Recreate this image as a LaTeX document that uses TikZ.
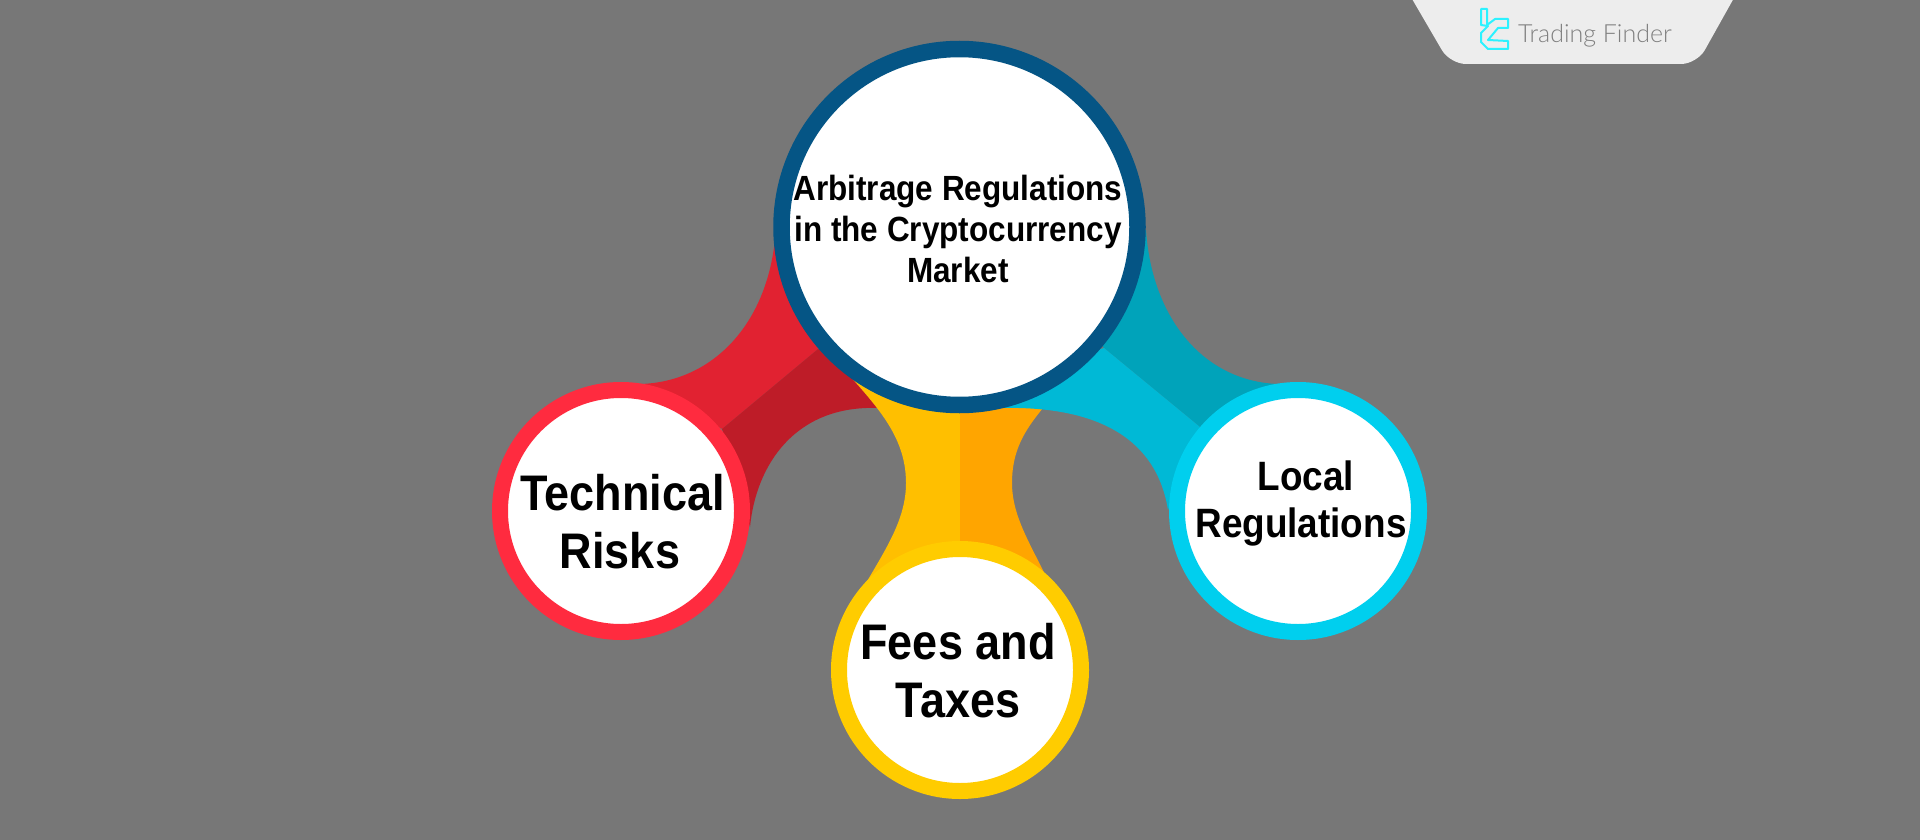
\documentclass[tikz,border=0pt]{standalone}
\usepackage{fontspec}
\setmainfont{Liberation Sans}[FakeStretch=0.9]
\newfontfamily\logofont{Lato Light}
\definecolor{bggray}{HTML}{777777}
\definecolor{tabgray}{HTML}{EDEDED}
\definecolor{logocyan}{HTML}{2CF2FF}
\definecolor{hubblue}{HTML}{055585}
\definecolor{ringred}{HTML}{FF2B3F}
\definecolor{redlight}{HTML}{E12231}
\definecolor{reddark}{HTML}{BE1C28}
\definecolor{ringyellow}{HTML}{FFCC00}
\definecolor{yellowlight}{HTML}{FFBF00}
\definecolor{yellowdark}{HTML}{FFA500}
\definecolor{ringcyan}{HTML}{00CFEE}
\definecolor{cyanlight}{HTML}{00B9D6}
\definecolor{cyandark}{HTML}{00A3BA}
\tikzset{
	hubring/.style={circle,draw=hubblue,line width=16.5pt,fill=white,minimum size=356pt,inner sep=0pt,outer sep=0pt},
	smallring/.style={circle,line width=16pt,fill=white,minimum size=242pt,inner sep=0pt,outer sep=0pt},
	biglabel/.style={align=center,font=\bfseries\fontsize{50}{58}\selectfont,inner sep=0pt},
}
\begin{document}
\begin{tikzpicture}[x=1pt,y=-1pt]
	\useasboundingbox (0,0) rectangle (1920,840);
	\fill[bggray] (0,0) rectangle (1920,840);
	% logo tab
	\fill[tabgray,rounded corners=16pt] (1401,-20)--(1450,64)--(1697,64)--(1744,-20)--cycle;
	\draw[logocyan,line width=2pt,line join=round] (1481,9)--(1487,9)--(1487,25)--(1495,19)--(1508,19)--(1508,28)--(1498,28)--(1488,40)--(1508,41)--(1508,49)--(1488,49)--(1481,42)--(1481,33)--(1488,26)--(1481,25)--cycle;
	\node[text=gray,inner sep=0pt,font=\logofont\fontsize{25}{25}\selectfont] (brand) at (1595,36) {Trading Finder};
	% nodes first, the ribbons go underneath
	\coordinate (hubc) at (959.5,227);
	\coordinate (redc) at (621,511);
	\coordinate (yelc) at (960,670);
	\coordinate (cyac) at (1298,511);
	% red ribbon
	\fill[redlight] (776,225) .. controls (772,320) and (715,382) .. (640,384)--(722,429)--(818,349)--(850,300)--cycle;
	\fill[reddark] (722,429)--(750,527) .. controls (756,465) and (795,405) .. (878,408)--(900,380)--(818,349)--cycle;
	% yellow ribbon
	\fill[yellowlight] (843,368) .. controls (875,405) and (906,435) .. (906,483) .. controls (906,520) and (885,550) .. (862,590)--(960,640)--(960,380)--cycle;
	\fill[yellowdark] (960,380)--(960,640)--(1052,590) .. controls (1035,550) and (1012,520) .. (1012,483) .. controls (1012,450) and (1025,430) .. (1043,408)--(1060,380)--cycle;
	% cyan ribbon
	\fill[cyandark] (1146,230) .. controls (1152,320) and (1205,382) .. (1279,384)--(1200,427)--(1104,348)--(1070,300)--cycle;
	\fill[cyanlight] (1104,348)--(1200,427)--(1168,510) .. controls (1160,460) and (1125,405) .. (1000,408)--(1000,380)--cycle;
	\node[hubring] (hub) at (hubc) {};
	\node[smallring,draw=ringred] (tech) at (redc) {};
	\node[smallring,draw=ringyellow] (fees) at (yelc) {};
	\node[smallring,draw=ringcyan] (local) at (cyac) {};
	\node[biglabel,font=\bfseries\fontsize{35}{41}\selectfont] (hubtext) at (958,229) {Arbitrage Regulations\\in the Cryptocurrency\\Market};
	\node[biglabel] (techtext) at (620,522) {\hspace{5pt}Technical\\Risks};
	\node[biglabel] (feestext) at (958,671) {Fees and\\Taxes};
	\node[biglabel,font=\bfseries\fontsize{41}{47}\selectfont] (localtext) at (1301,503) {\hspace{10pt}Local\\Regulations};
\end{tikzpicture}
\end{document}
